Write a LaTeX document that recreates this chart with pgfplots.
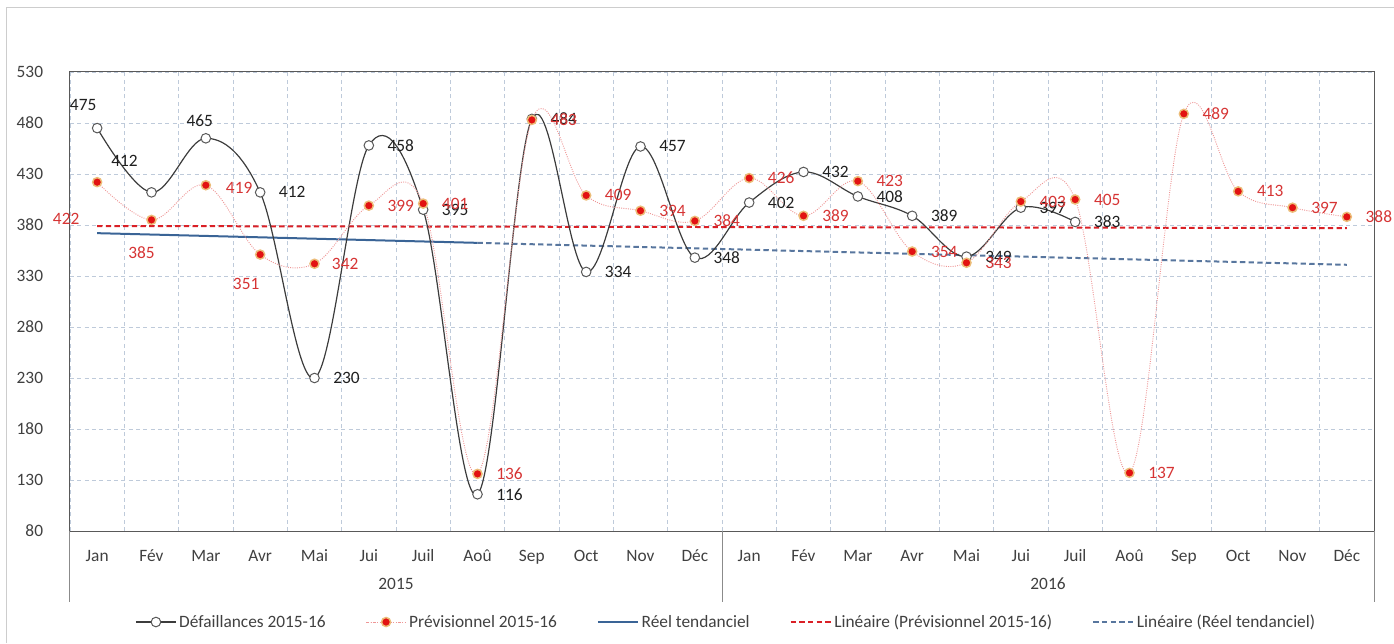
\documentclass[border=0pt]{standalone}
\usepackage{fontspec}
\setmainfont{Carlito}
\usepackage{pgfplots}
\usepackage{pgfplotstable}
\pgfplotsset{compat=1.18}

\definecolor{gridc}{RGB}{190,202,218}
\definecolor{axc}{RGB}{89,89,89}
\definecolor{txt}{RGB}{64,64,64}
\definecolor{blk}{RGB}{60,60,60}
\definecolor{redm}{RGB}{226,18,18}
\definecolor{halo}{RGB}{236,188,120}
\definecolor{redl}{RGB}{238,150,150}
\definecolor{redlab}{RGB}{214,52,52}
\definecolor{trendr}{RGB}{218,32,38}
\definecolor{blueA}{RGB}{58,100,150}
\definecolor{blueB}{RGB}{88,118,158}
\definecolor{framec}{RGB}{205,205,205}

\newcommand\lab{\fontsize{13}{15}\selectfont}

% x = month index, y = value, dx/dy = label offset (pt)
\pgfplotstableread{
x y dx dy
0 475 -10.5 17.25
1 412 -20.25 23.25
2 465 -4.5 13.5
3 412 24 0
4 230 24 0
5 458 24 0
6 395 24 0
7 116 24 0
8 484 24 0
9 334 24 0
10 457 24 0
11 348 24 0
12 402 24 0
13 432 24 0
14 408 24 0
15 389 24 0
16 349 24 0
17 397 24 0
18 383 24 0
}\defa

\pgfplotstableread{
x y dx dy
0 422 -23.25 -27.75
1 385 -7.5 -24.75
2 419 25 -2
3 351 -10.5 -21.75
4 342 23 0
5 399 24 0
6 401 24 0
7 136 24 0
8 483 24 0
9 409 24 0
10 394 24 0
11 384 24 0
12 426 24 0
13 389 24 0
14 423 24 0
15 354 24 0
16 343 24 0
17 403 24 0
18 405 24 0
19 137 24 0
20 489 24 0
21 413 24 0
22 397 24 0
23 388 24 0
}\prev

\begin{document}
\begin{tikzpicture}
\useasboundingbox (-52.5pt,-84pt) rectangle (993pt,398.25pt);
\draw[framec, line width=0.75pt] (-47.25pt,-84pt) -- (-47.25pt,392.25pt) -- (993pt,392.25pt);
\begin{axis}[
  at={(0,0)}, anchor=south west,
  scale only axis, width=978pt, height=344.25pt,
  xmin=-0.5, xmax=23.5, ymin=80, ymax=530,
  ytick={80,130,...,530},
  xtick={0,...,23},
  xticklabels={Jan,Fév,Mar,Avr,Mai,Jui,Juil,Aoû,Sep,Oct,Nov,Déc,Jan,Fév,Mar,Avr,Mai,Jui,Juil,Aoû,Sep,Oct,Nov,Déc},
  minor xtick={-0.5,0.5,...,23.5},
  xmajorgrids=false, xminorgrids=true, ymajorgrids=true,
  grid style={gridc, dash pattern=on 3pt off 2.5pt, line width=0.6pt},
  minor grid style={gridc, dash pattern=on 3pt off 2.5pt, line width=0.6pt},
  major tick length=0pt, minor tick length=0pt,
  axis line style={axc, line width=0.75pt},
  tick label style={font=\lab, text=txt},
  /pgf/number format/assume math mode=true,
  yticklabel style={inner sep=0pt, anchor=east, xshift=-20pt},
  xticklabel style={inner sep=0pt, anchor=base, yshift=-22.5pt},
  clip=false,
  legend columns=5,
  legend style={at={(0.5035,-0.1983)}, anchor=center, draw=none, fill=none,
    font=\lab, text=txt,
    /tikz/every even column/.append style={column sep=28pt}},
  legend cell align=left,
  legend image code/.code={\draw[mark repeat=2,mark phase=2] plot coordinates {(0pt,0pt) (15pt,0pt) (30pt,0pt)};},
]
% trend lines
\addplot[forget plot, trendr, line width=1.5pt, dash pattern=on 4pt off 2.5pt] coordinates {(0,379) (23,377)};
\addplot[forget plot, blueA, line width=1.5pt] coordinates {(0,372) (7,362.5)};
\addplot[forget plot, blueB, line width=1.5pt, dash pattern=on 4pt off 2.5pt] coordinates {(7,362.5) (23,341)};

% Défaillances
\addplot[blk, line width=0.9pt, smooth, tension=0.6,
  mark=*, mark size=3.6pt, mark options={fill=white, draw=axc, line width=0.75pt, solid},
  point meta=\thisrow{y},
  nodes near coords,
  visualization depends on={\thisrow{dx}\as\labdx},
  visualization depends on={\thisrow{dy}\as\labdy},
  every node near coord/.append style={anchor=center, xshift=\labdx pt, yshift=\labdy pt, font=\lab, text=black!88, inner sep=0pt},
] table[x=x, y=y] {\defa};
\addlegendentry{Défaillances 2015-16}

% Prévisionnel
\addplot[redl, line width=0.7pt, densely dotted, smooth, tension=0.6,
  mark=*, mark size=3.4pt, mark options={fill=redm, draw=halo, line width=1.1pt, solid},
  point meta=\thisrow{y},
  nodes near coords,
  visualization depends on={\thisrow{dx}\as\labdx},
  visualization depends on={\thisrow{dy}\as\labdy},
  every node near coord/.append style={anchor=center, xshift=\labdx pt, yshift=\labdy pt, font=\lab, text=redlab, inner sep=0pt},
] table[x=x, y=y] {\prev};
\addlegendentry{Prévisionnel 2015-16}

\addlegendimage{blueA, line width=1.5pt}
\addlegendentry{Réel tendanciel}
\addlegendimage{trendr, line width=1.5pt, dash pattern=on 4pt off 2.5pt}
\addlegendentry{Linéaire (Prévisionnel 2015-16)}
\addlegendimage{blueB, line width=1.5pt, dash pattern=on 4pt off 2.5pt}
\addlegendentry{Linéaire (Réel tendanciel)}

% category group separators and year labels
\draw[axc!70, line width=0.75pt] (axis cs:-0.5,80) -- ++(0pt,-53.25pt);
\draw[axc!70, line width=0.75pt] (axis cs:11.5,80) -- ++(0pt,-53.25pt);
\draw[axc!70, line width=0.75pt] (axis cs:23.5,80) -- ++(0pt,-53.25pt);
\node[font=\lab, text=txt, anchor=base, inner sep=0pt] at ([yshift=-43.5pt]axis cs:5.5,80) {2015};
\node[font=\lab, text=txt, anchor=base, inner sep=0pt] at ([yshift=-43.5pt]axis cs:17.5,80) {2016};
\end{axis}
\end{tikzpicture}
\end{document}
